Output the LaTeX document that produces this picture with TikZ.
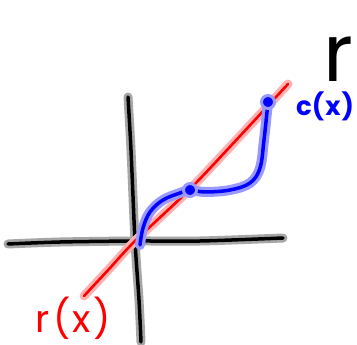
\documentclass[tikz,border=0pt]{standalone}
\usepackage{fontspec}
\newfontfamily\hand{Poppins}
\begin{document}
\begin{tikzpicture}[x=1pt,y=-1pt,
  redstroke/.style={draw=red, line width=2.6pt, line cap=round, line join=round,
    preaction={draw=red!30, line width=9pt, line cap=round, line join=round}},
  bluestroke/.style={draw=blue, line width=3.5pt, line cap=round, line join=round,
    preaction={draw=blue!40, line width=10pt, line cap=round, line join=round}},
  blackstroke/.style={draw=black, line width=3.5pt, line cap=round, line join=round,
    preaction={draw=black!35, line width=9pt, line cap=round, line join=round}},
  bluedot/.style={circle, fill=blue, draw=blue!40, line width=3pt, inner sep=0pt, minimum size=13pt},
  lbl/.style={inner sep=0pt, font=\hand}]
\useasboundingbox (0,0) rectangle (357,345);
\fill[white] (0,0) rectangle (357,345);
% axes
\draw[blackstroke] plot[smooth] coordinates {(8,244) (60,242) (135,241) (200,241) (283,238)};
\draw[blackstroke] plot[smooth] coordinates {(128,97) (131,150) (135,241) (139,300) (141,342)};
% red line
\draw[redstroke] plot[smooth] coordinates {(84,296) (110,268) (135,241) (190,189) (240,136) (288,84)};
% blue curve
\draw[bluestroke] plot[smooth, tension=0.6] coordinates {(140,245) (143,228) (150,212) (163,200) (180,193) (190,190) (205,192) (230,190) (250,183) (260,168) (264,140) (268,102)};
\node[bluedot] (p1) at (190,190) {};
\node[bluedot] (p2) at (268,102) {};
% labels
\node[lbl, text=red, font=\hand\fontsize{38}{38}\selectfont, anchor=center] (rx) at (73,318) {r\kern4pt(\kern2ptx\kern2pt)};
\node[lbl, text=blue, font=\hand\bfseries\fontsize{26}{26}\selectfont, anchor=west, text height=18pt] (cx) at (296,109) {c(\kern1ptx\kern1pt)};
\node[lbl, text=black, font=\hand\fontsize{80}{80}\selectfont, anchor=base west, text depth=0pt] (r2) at (323,82) {r};
\end{tikzpicture}
\end{document}
